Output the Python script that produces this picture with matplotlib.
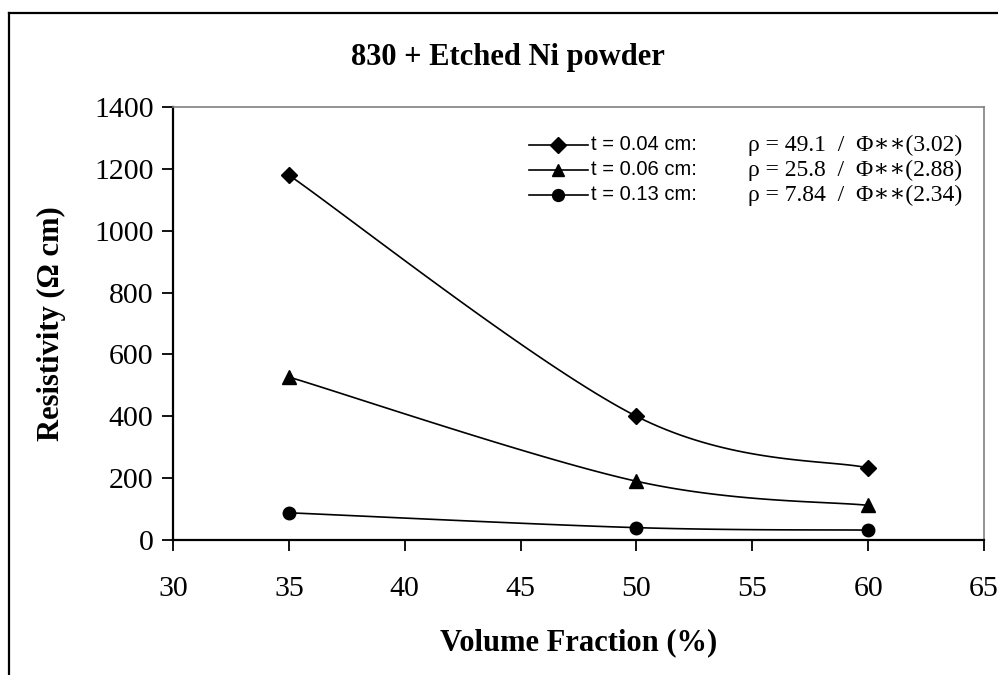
import numpy as np
import matplotlib
matplotlib.use("Agg")
import matplotlib.pyplot as plt
from matplotlib.lines import Line2D

# ---- data ----
volume_fraction = [35, 50, 60]
rho_t004 = [1180, 400, 233]
rho_t006 = [527, 190, 112]
rho_t013 = [88, 40, 32]

series_labels = ["t = 0.04 cm:", "t = 0.06 cm:", "t = 0.13 cm:"]
fit_labels = ["\u03c1 = 49.1  /  \u03a6\u2217\u2217(3.02)",
              "\u03c1 = 25.8  /  \u03a6\u2217\u2217(2.88)",
              "\u03c1 = 7.84  /  \u03a6\u2217\u2217(2.34)"]
markers = ["D", "^", "o"]
marker_sizes = [8.5, 9.5, 9]

x_ticks = [30, 35, 40, 45, 50, 55, 60, 65]
y_ticks = [0, 200, 400, 600, 800, 1000, 1200, 1400]

title = "830 + Etched Ni powder"
xlabel = "Volume Fraction (%)"
ylabel = "Resistivity (\u03a9 cm)"

SERIF = ["Liberation Serif", "DejaVu Serif"]
SANS = ["Liberation Sans", "DejaVu Sans"]


def smooth(xs, ys, n=40):
    """Excel-like smoothed line: cubic Bezier through the points."""
    P = np.column_stack([xs, ys]).astype(float)
    Pext = np.vstack([P[0], P, P[-1]])
    out = []
    t = np.linspace(0, 1, n)[:, None]
    for i in range(len(P) - 1):
        p0 = Pext[i + 1]
        p3 = Pext[i + 2]
        c1 = p0 + (Pext[i + 2] - Pext[i]) / 6.0
        c2 = p3 - (Pext[i + 3] - Pext[i + 1]) / 6.0
        seg = ((1 - t) ** 3) * p0 + 3 * ((1 - t) ** 2) * t * c1 + 3 * (1 - t) * t ** 2 * c2 + t ** 3 * p3
        out.append(seg if i == 0 else seg[1:])
    arr = np.vstack(out)
    return arr[:, 0], arr[:, 1]


fig = plt.figure(figsize=(9.98, 6.75), dpi=100)
ax = fig.add_axes([173 / 998, 1 - 540 / 675, (984 - 173) / 998, (540 - 107) / 675])

all_series = [rho_t004, rho_t006, rho_t013]
for ys, m, ms in zip(all_series, markers, marker_sizes):
    sx, sy = smooth(volume_fraction, ys)
    ax.plot(sx, sy, color="black", lw=1.2, zorder=2)
    ax.plot(volume_fraction, ys, ls="none", marker=m, ms=ms, color="black", zorder=3)

ax.set_xlim(30, 65)
ax.set_ylim(0, 1400)
ax.set_xticks(x_ticks)
ax.set_yticks(y_ticks)
ax.set_xticklabels([str(v) for v in x_ticks], fontfamily=SERIF, fontsize=21.5)
ax.set_yticklabels([str(v) for v in y_ticks], fontfamily=SERIF, fontsize=21.5)
ax.tick_params(axis="both", direction="out", length=8, width=1.3, color="black")
ax.tick_params(axis="x", pad=18)
ax.tick_params(axis="y", pad=6)

for side in ["left", "bottom"]:
    ax.spines[side].set_color("black")
    ax.spines[side].set_linewidth(1.6)
for side in ["top", "right"]:
    ax.spines[side].set_color("#808080")
    ax.spines[side].set_linewidth(1.2)

ax.set_xlabel(xlabel, fontfamily=SERIF, fontweight="bold", fontsize=22, labelpad=19)
ax.set_ylabel(ylabel, fontfamily=SERIF, fontweight="bold", fontsize=22, labelpad=20)
fig.text(508 / 998, 1 - 57 / 675, title, fontfamily=SERIF, fontweight="bold",
         fontsize=22, ha="center", va="center")

# legend (manual)
leg_y = [145, 170, 195]
for lab, fit, m, ms, yp in zip(series_labels, fit_labels, markers, marker_sizes, leg_y):
    yf = 1 - yp / 675
    fig.add_artist(Line2D([529 / 998, 588 / 998], [yf, yf], color="black", lw=1.2))
    fig.add_artist(Line2D([558 / 998], [yf], marker=m, ms=ms * 0.95, color="black", ls="none"))
    fig.text(591 / 998, yf, lab, fontfamily=SANS, fontsize=14.5, ha="left", va="center")
    fig.text(748 / 998, yf, fit, fontfamily=SERIF, fontsize=17, ha="left", va="center")

# outer chart frame
fig.add_artist(Line2D([9 / 998, 1.0], [1 - 13 / 675, 1 - 13 / 675], color="black", lw=1.6))
fig.add_artist(Line2D([9 / 998, 9 / 998], [1 - 13 / 675, 0.0], color="black", lw=1.6))

fig.savefig("out.png", dpi=100)
